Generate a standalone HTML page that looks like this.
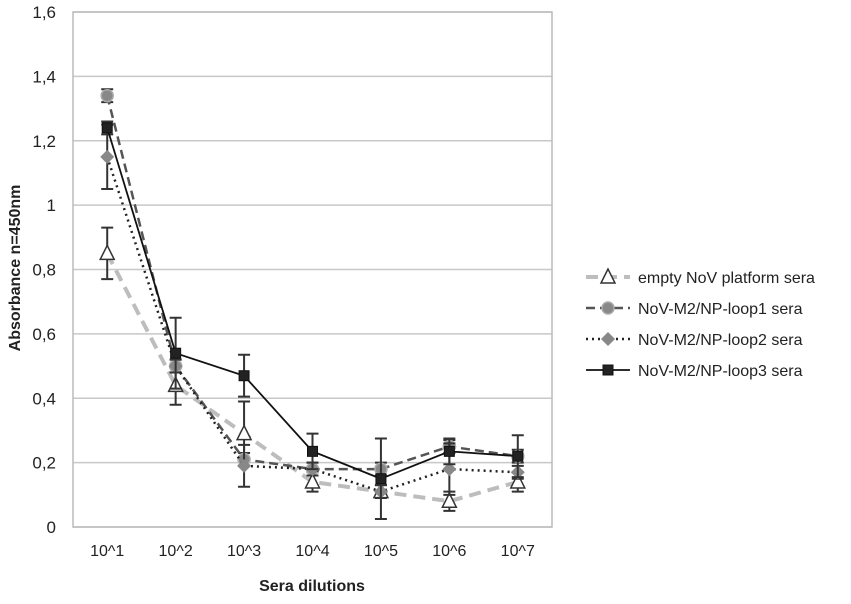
<!DOCTYPE html>
<html><head><meta charset="utf-8"><style>
body{margin:0;background:#fff;font-family:"Liberation Sans",sans-serif}
</style></head><body>
<svg id="chart" width="851" height="599" xmlns="http://www.w3.org/2000/svg"></svg>
<script>
const categories=["10^1","10^2","10^3","10^4","10^5","10^6","10^7"];
const yTicks=[0,0.2,0.4,0.6,0.8,1,1.2,1.4,1.6];
const yTickLabels=["0","0,2","0,4","0,6","0,8","1","1,2","1,4","1,6"];
const seriesNames=["empty NoV platform sera","NoV-M2/NP-loop1 sera","NoV-M2/NP-loop2 sera","NoV-M2/NP-loop3 sera"];
const emptyVals=[0.85,0.44,0.29,0.14,0.11,0.08,0.14];
const emptyErr=[0.08,0.06,0.1,0.03,0.02,0.03,0.03];
const loop1Vals=[1.34,0.5,0.21,0.18,0.18,0.25,0.22];
const loop1Err=[0.02,0.02,0.02,0.02,0.02,0.02,0.02];
const loop2Vals=[1.15,0.5,0.19,0.18,0.11,0.18,0.17];
const loop2Err=[0.1,0.02,0.065,0.02,0.02,0.08,0.02];
const loop3Vals=[1.24,0.54,0.47,0.235,0.15,0.235,0.22];
const loop3Err=[0.02,0.11,0.065,0.055,0.125,0.04,0.065];

const svg=document.getElementById('chart');
const NS="http://www.w3.org/2000/svg";
const L=73,R=552,T=12,B=527;
const x=i=>L+(R-L)/categories.length*(i+0.5);
const y=v=>B-(v/1.6)*(B-T);
function el(tag,attrs,parent){const e=document.createElementNS(NS,tag);for(const k in attrs)e.setAttribute(k,attrs[k]);(parent||svg).appendChild(e);return e;}

yTicks.forEach((t,i)=>{
  const g=el('line',{x1:L,x2:R,y1:y(t),y2:y(t),stroke:'#c8c8c8','stroke-width':1.5});
  
  
  const tx=el('text',{x:56,y:y(t)+6,'text-anchor':'end','font-size':17,fill:'#222'});
  tx.textContent=yTickLabels[i];
  
  
});
const frame=el('rect',{x:L,y:T,width:R-L,height:B-T,fill:'none',stroke:'#bbb','stroke-width':1.5});


categories.forEach((c,i)=>{
  const tx=el('text',{x:x(i),y:556,'text-anchor':'middle','font-size':16,fill:'#222'});
  tx.textContent=c;
  
  
});
const xt=el('text',{x:312,y:591,'text-anchor':'middle','font-size':16,'font-weight':'bold',fill:'#222'});
xt.textContent="Sera dilutions";


const yt=el('text',{x:0,y:0,'text-anchor':'middle','font-size':16,'font-weight':'bold',fill:'#222',transform:'translate(20,268) rotate(-90)'});
yt.textContent="Absorbance n=450nm";



const styles=[
 {vals:emptyVals,err:emptyErr,stroke:'#bdbdbd',w:4,dash:'12,7',marker:'tri',mfill:'#fff',mstroke:'#333'},
 {vals:loop1Vals,err:loop1Err,stroke:'#555',w:2.5,dash:'9,5',marker:'circle',mfill:'#888',mstroke:'#aaa'},
 {vals:loop2Vals,err:loop2Err,stroke:'#222',w:2.5,dash:'2,4',marker:'diamond',mfill:'#888',mstroke:'#888'},
 {vals:loop3Vals,err:loop3Err,stroke:'#111',w:1.8,dash:'',marker:'square',mfill:'#222',mstroke:'#111'}
];
function marker(kind,cx,cy,s,parent){
  if(kind==='tri')return el('polygon',{points:`${cx},${cy-8} ${cx-7},${cy+6} ${cx+7},${cy+6}`,fill:s.mfill,stroke:s.mstroke,'stroke-width':1.5},parent);
  if(kind==='circle')return el('circle',{cx,cy,r:6,fill:s.mfill,stroke:s.mstroke,'stroke-width':1.5},parent);
  if(kind==='diamond')return el('polygon',{points:`${cx},${cy-7} ${cx+7},${cy} ${cx},${cy+7} ${cx-7},${cy}`,fill:s.mfill},parent);
  return el('rect',{x:cx-5,y:cy-5,width:10,height:10,fill:s.mfill,stroke:s.mstroke},parent);
}
styles.forEach((s,si)=>{
  const g=el('g',{});
  
  
  s.vals.forEach((v,i)=>{
    const e=s.err[i];
    const eb=el('path',{d:`M${x(i)},${y(v+e)}V${y(v-e)}M${x(i)-6},${y(v+e)}h12M${x(i)-6},${y(v-e)}h12`,stroke:'#333','stroke-width':2,fill:'none'},g);
    
    
  });
  const pl=el('polyline',{points:s.vals.map((v,i)=>x(i)+','+y(v)).join(' '),fill:'none',stroke:s.stroke,'stroke-width':s.w,'stroke-dasharray':s.dash},g);
  
  
  s.vals.forEach((v,i)=>{
    const m=marker(s.marker,x(i),y(v),s,g);
    
    
  });
  const ly=277+si*31;
  const ll=el('line',{x1:586,x2:630,y1:ly,y2:ly,stroke:s.stroke,'stroke-width':s.w,'stroke-dasharray':s.dash});
  
  
  const lm=marker(s.marker,608,ly,s);
  
  
  const lt=el('text',{x:638,y:ly+6,'font-size':16,fill:'#222'});
  lt.textContent=seriesNames[si];
  
  
});
</script>
</body></html>
